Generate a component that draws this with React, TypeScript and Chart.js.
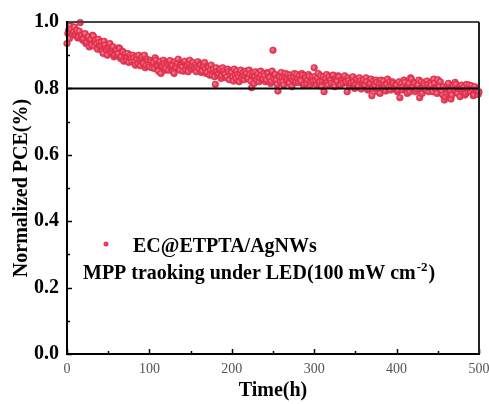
import React, { useEffect, useRef } from "react";
import { Chart, registerables } from "chart.js";

Chart.register(...registerables);

// ---- data ----
const TIME_STEP_H = 2; // sampling interval of each record (h)
// records taken at even hours (0, 2, ..., 500)
const PCE_EVEN_H = [
  0.935, 0.975, 0.99, 0.965, 0.97, 0.96, 0.975, 0.955, 0.998, 0.96,
  0.95, 0.965, 0.94, 0.955, 0.945, 0.93, 0.958, 0.94, 0.935, 0.948,
  0.925, 0.94, 0.905, 0.93, 0.915, 0.92, 0.935, 0.91, 0.925, 0.9,
  0.915, 0.905, 0.92, 0.895, 0.91, 0.9, 0.885, 0.905, 0.895, 0.89,
  0.9, 0.88, 0.895, 0.875, 0.885, 0.89, 0.878, 0.9, 0.87, 0.882,
  0.865, 0.88, 0.875, 0.86, 0.885, 0.87, 0.878, 0.845, 0.868, 0.875,
  0.86, 0.872, 0.878, 0.862, 0.87, 0.845, 0.868, 0.876, 0.86, 0.872,
  0.865, 0.878, 0.858, 0.87, 0.875, 0.862, 0.868, 0.858, 0.872, 0.865,
  0.86, 0.87, 0.852, 0.866, 0.858, 0.848, 0.862, 0.855, 0.84, 0.858,
  0.812, 0.85, 0.845, 0.858, 0.838, 0.852, 0.842, 0.835, 0.85, 0.84,
  0.848, 0.822, 0.84, 0.852, 0.835, 0.845, 0.83, 0.848, 0.838, 0.845,
  0.83, 0.842, 0.802, 0.848, 0.835, 0.825, 0.845, 0.832, 0.84, 0.828,
  0.838, 0.826, 0.845, 0.832, 0.822, 0.915, 0.84, 0.825, 0.792, 0.835,
  0.848, 0.82, 0.836, 0.828, 0.842, 0.815, 0.833, 0.825, 0.845, 0.818,
  0.83, 0.838, 0.822, 0.84, 0.812, 0.832, 0.826, 0.836, 0.82, 0.834,
  0.862, 0.825, 0.832, 0.815, 0.838, 0.822, 0.79, 0.83, 0.818, 0.835,
  0.826, 0.838, 0.812, 0.828, 0.822, 0.835, 0.81, 0.826, 0.832, 0.818,
  0.79, 0.825, 0.815, 0.83, 0.82, 0.812, 0.828, 0.805, 0.822, 0.815,
  0.826, 0.81, 0.82, 0.8, 0.815, 0.778, 0.822, 0.808, 0.818, 0.8,
  0.785, 0.815, 0.822, 0.805, 0.812, 0.798, 0.82, 0.808, 0.815, 0.802,
  0.81, 0.795, 0.772, 0.815, 0.805, 0.818, 0.8, 0.81, 0.79, 0.828,
  0.805, 0.815, 0.798, 0.81, 0.772, 0.82, 0.8, 0.808, 0.795, 0.812,
  0.802, 0.81, 0.79, 0.815, 0.798, 0.826, 0.805, 0.792, 0.78, 0.765,
  0.8, 0.81, 0.79, 0.768, 0.805, 0.795, 0.812, 0.785, 0.8, 0.808,
  0.792, 0.805, 0.785, 0.8, 0.81, 0.79, 0.798, 0.78, 0.795, 0.785,
  0.79,
];
// records taken at odd hours (1, 3, ..., 499)
const PCE_ODD_H = [
  0.965, 0.95, 0.978, 0.962, 0.985, 0.968, 0.952, 0.972, 0.958, 0.945,
  0.962, 0.935, 0.952, 0.925, 0.948, 0.96, 0.928, 0.945, 0.918, 0.938,
  0.93, 0.912, 0.942, 0.92, 0.9, 0.928, 0.908, 0.918, 0.895, 0.915,
  0.9, 0.922, 0.89, 0.912, 0.882, 0.905, 0.895, 0.878, 0.9, 0.88,
  0.892, 0.87, 0.888, 0.9, 0.868, 0.895, 0.875, 0.862, 0.888, 0.872,
  0.885, 0.862, 0.878, 0.892, 0.868, 0.852, 0.882, 0.865, 0.885, 0.855,
  0.878, 0.855, 0.884, 0.866, 0.85, 0.88, 0.862, 0.888, 0.855, 0.87,
  0.852, 0.882, 0.868, 0.85, 0.885, 0.858, 0.878, 0.862, 0.85, 0.88,
  0.872, 0.848, 0.868, 0.878, 0.845, 0.865, 0.84, 0.87, 0.852, 0.835,
  0.862, 0.84, 0.855, 0.83, 0.862, 0.845, 0.832, 0.858, 0.826, 0.852,
  0.835, 0.858, 0.83, 0.842, 0.82, 0.855, 0.84, 0.826, 0.852, 0.832,
  0.855, 0.822, 0.84, 0.815, 0.85, 0.836, 0.82, 0.852, 0.825, 0.845,
  0.82, 0.848, 0.835, 0.815, 0.852, 0.83, 0.842, 0.812, 0.838, 0.82,
  0.832, 0.81, 0.845, 0.822, 0.818, 0.84, 0.805, 0.835, 0.82, 0.842,
  0.818, 0.826, 0.845, 0.808, 0.838, 0.815, 0.842, 0.81, 0.83, 0.822,
  0.836, 0.81, 0.845, 0.82, 0.805, 0.835, 0.825, 0.842, 0.81, 0.822,
  0.815, 0.84, 0.805, 0.83, 0.838, 0.808, 0.825, 0.815, 0.838, 0.82,
  0.832, 0.805, 0.818, 0.835, 0.8, 0.825, 0.81, 0.832, 0.798, 0.82,
  0.808, 0.832, 0.795, 0.815, 0.828, 0.8, 0.812, 0.825, 0.79, 0.815,
  0.825, 0.8, 0.81, 0.792, 0.828, 0.805, 0.795, 0.82, 0.8, 0.812,
  0.79, 0.82, 0.805, 0.795, 0.825, 0.8, 0.785, 0.815, 0.832, 0.8,
  0.818, 0.79, 0.81, 0.825, 0.798, 0.785, 0.815, 0.8, 0.822, 0.79,
  0.815, 0.795, 0.828, 0.8, 0.785, 0.812, 0.82, 0.79, 0.805, 0.775,
  0.785, 0.815, 0.795, 0.78, 0.808, 0.818, 0.79, 0.8, 0.775, 0.81,
  0.8, 0.78, 0.812, 0.79, 0.795, 0.808, 0.778, 0.805, 0.79, 0.782,
];
const THRESHOLD = 0.8;
const X_RANGE = [0, 500];
const Y_RANGE = [0, 1];
const X_TICK_STEP = 100;
const Y_TICK_STEP = 0.2;
const SERIES_LABEL = "EC@ETPTA/AgNWs";
const NOTE_MAIN = "MPP traoking under LED(100 mW cm";
const NOTE_SUP = "-2";
const NOTE_END = ")";
const X_TITLE = "Time(h)";
const Y_TITLE = "Normalized PCE(%)";

// ---- styles ----
const FONT = "'Liberation Serif', 'Times New Roman', serif";
const POINT_FILL = "#ec3a57";
const POINT_EDGE = "#d52c48";
const POINT_R = 3.3;

function pointFill(context: any) {
  if (context.type !== "data" || !context.parsed) return POINT_FILL;
  const c = context.chart;
  const xs = c.scales.x;
  const ys = c.scales.y;
  if (!xs || !ys) return POINT_FILL;
  const x = xs.getPixelForValue(context.parsed.x);
  const y = ys.getPixelForValue(context.parsed.y);
  if (!isFinite(x) || !isFinite(y)) return POINT_FILL;
  const g = c.ctx.createRadialGradient(x - 0.8, y - 0.8, 0.2, x, y, POINT_R + 0.5);
  g.addColorStop(0, "#ff8a9a");
  g.addColorStop(0.4, "#ef4661");
  g.addColorStop(1, "#dc2c49");
  return g;
}

const decorPlugin = {
  id: "decor",
  afterDatasetsDraw(chart: any) {
    const { ctx, chartArea } = chart;
    const { left, right, top, bottom } = chartArea;
    const xs = chart.scales.x;
    const ys = chart.scales.y;
    ctx.save();
    // ticks (inward)
    ctx.strokeStyle = "#000";
    ctx.lineWidth = 1.5;
    for (let v = X_RANGE[0]; v <= X_RANGE[1]; v += X_TICK_STEP / 2) {
      const px = Math.round(xs.getPixelForValue(v)) + 0.5;
      const len = v % X_TICK_STEP === 0 ? 5 : 3;
      ctx.beginPath();
      ctx.moveTo(px, bottom);
      ctx.lineTo(px, bottom - len);
      ctx.stroke();
    }
    for (let i = 0; i <= 10; i++) {
      const v = (Y_TICK_STEP / 2) * i;
      const py = Math.round(ys.getPixelForValue(v)) + 0.5;
      const len = i % 2 === 0 ? 5 : 3;
      ctx.beginPath();
      ctx.moveTo(left, py);
      ctx.lineTo(left + len, py);
      ctx.stroke();
    }
    // frame
    ctx.lineWidth = 2;
    ctx.strokeStyle = "#444";
    ctx.beginPath();
    ctx.moveTo(left, top);
    ctx.lineTo(right, top);
    ctx.stroke();
    ctx.strokeStyle = "#222";
    ctx.beginPath();
    ctx.moveTo(right, top);
    ctx.lineTo(right, bottom);
    ctx.stroke();
    ctx.strokeStyle = "#000";
    ctx.beginPath();
    ctx.moveTo(left, top - 1);
    ctx.lineTo(left, bottom);
    ctx.lineTo(right + 1, bottom);
    ctx.stroke();

    // legend / note
    ctx.fillStyle = POINT_FILL;
    ctx.beginPath();
    ctx.arc(left + 39, top + 222, 2.5, 0, Math.PI * 2);
    ctx.fill();
    ctx.fillStyle = "#000";
    ctx.font = `bold 20px ${FONT}`;
    ctx.textAlign = "left";
    ctx.textBaseline = "alphabetic";
    ctx.fillText(SERIES_LABEL, left + 66, top + 230);
    const x0 = left + 16;
    const yb = top + 257;
    ctx.fillText(NOTE_MAIN, x0, yb);
    const w1 = ctx.measureText(NOTE_MAIN).width;
    ctx.font = `bold 13px ${FONT}`;
    ctx.fillText(NOTE_SUP, x0 + w1 + 1, yb - 8);
    const w2 = ctx.measureText(NOTE_SUP).width;
    ctx.font = `bold 20px ${FONT}`;
    ctx.fillText(NOTE_END, x0 + w1 + w2 + 2, yb);
    ctx.restore();
  },
};

export default function App() {
  const canvasRef = useRef<HTMLCanvasElement | null>(null);

  useEffect(() => {
    if (!canvasRef.current) return;
    const points = [
      ...PCE_EVEN_H.map((y, i) => ({ x: i * TIME_STEP_H, y })),
      ...PCE_ODD_H.map((y, i) => ({ x: i * TIME_STEP_H + 1, y })),
    ].sort((a, b) => a.x - b.x);
    const chart = new Chart(canvasRef.current, {
      type: "scatter",
      data: {
        datasets: [
          {
            type: "line",
            label: "threshold",
            data: [
              { x: X_RANGE[0], y: THRESHOLD },
              { x: X_RANGE[1], y: THRESHOLD },
            ],
            borderColor: "#000",
            borderWidth: 2,
            pointRadius: 0,
            order: 0,
          } as any,
          {
            label: SERIES_LABEL,
            data: points,
            pointRadius: POINT_R,
            pointBackgroundColor: pointFill,
            pointBorderColor: POINT_EDGE,
            pointBorderWidth: 0.6,
            order: 1,
            clip: 4,
          } as any,
        ],
      },
      options: {
        animation: false,
        responsive: false,
        maintainAspectRatio: false,
        layout: { padding: { left: 0, right: 10, top: 22, bottom: 0 } },
        plugins: { legend: { display: false }, tooltip: { enabled: false } },
        scales: {
          x: {
            type: "linear",
            min: X_RANGE[0],
            max: X_RANGE[1],
            grid: { display: false, drawTicks: false },
            border: { display: false },
            ticks: {
              stepSize: X_TICK_STEP,
              padding: 7,
              color: "#555",
              font: { family: FONT, size: 14, weight: "normal" },
              maxRotation: 0,
            },
            title: {
              display: true,
              text: X_TITLE,
              color: "#000",
              font: { family: FONT, size: 20, weight: "bold" },
              padding: { top: 0, bottom: 1 },
            },
            afterFit(scale: any) {
              scale.height = 50;
              scale.paddingLeft = 0;
              scale.paddingRight = 0;
            },
          },
          y: {
            type: "linear",
            min: Y_RANGE[0],
            max: Y_RANGE[1],
            grid: { display: false, drawTicks: false },
            border: { display: false },
            ticks: {
              stepSize: Y_TICK_STEP,
              padding: 8,
              color: "#000",
              font: { family: FONT, size: 20, weight: "bold" },
              callback: (v: any) => Number(v).toFixed(1),
            },
            title: {
              display: true,
              text: Y_TITLE,
              color: "#000",
              font: { family: FONT, size: 20, weight: "bold" },
              padding: { top: 10, bottom: 0 },
            },
            afterFit(scale: any) {
              scale.width = 67;
              scale.paddingTop = 0;
              scale.paddingBottom = 0;
            },
          },
        },
      },
      plugins: [decorPlugin],
    });
    return () => chart.destroy();
  }, []);

  return (
    <div style={{ position: "fixed", left: 0, top: 0, width: 489, height: 404, background: "#fff" }}>
      <canvas ref={canvasRef} width={489} height={404} style={{ width: 489, height: 404, display: "block" }} />
    </div>
  );
}
